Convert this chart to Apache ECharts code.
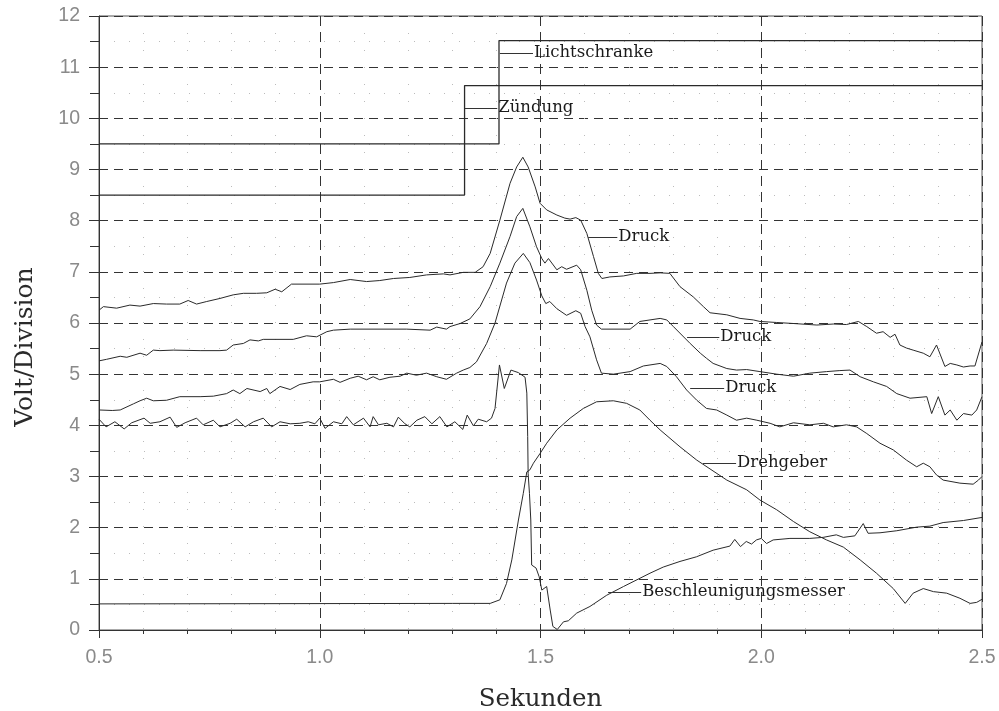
<!DOCTYPE html>
<html>
<head>
<meta charset="utf-8">
<script src="https://cdn.jsdelivr.net/npm/echarts@6/dist/echarts.min.js"></script>
<style>
  html, body { margin: 0; padding: 0; background: #ffffff; }
  #chart { width: 999px; height: 711px; }
</style>
</head>
<body>
<div id="chart"></div>
<script>
// Oszillogramm: Spannungsverläufe der Messkanäle über der Zeit (Sekunden)

const xTicks = [0.5, 1.0, 1.5, 2.0, 2.5];
const yTicks = [0, 1, 2, 3, 4, 5, 6, 7, 8, 9, 10, 11, 12];

// Lichtschranke
const lichtT = [0.5, 1.406, 1.406, 2.5];
const lichtV = [9.5, 9.5, 11.52, 11.52];

// Zündung
const zuendT = [0.5, 1.328, 1.328, 2.5];
const zuendV = [8.5, 8.5, 10.64, 10.64];

// Druck (oberer Kanal)
const druck1T = [0.500,0.510,0.540,0.570,0.593,0.623,0.653,0.683,0.702,0.721,0.744,0.774,0.804,0.827,0.857,0.880,0.899,0.914,0.936,1.000,1.031,1.069,1.106,1.136,1.167,1.204,1.242,1.280,1.295,1.325,1.352,1.370,1.386,1.408,1.431,1.446,1.460,1.472,1.488,1.499,1.514,1.537,1.555,1.567,1.580,1.591,1.605,1.620,1.631,1.639,1.657,1.688,1.718,1.748,1.771,1.793,1.816,1.846,1.869,1.884,1.922,1.952,1.982,1.997,2.035,2.073,2.126,2.163,2.193,2.220,2.239,2.261,2.276,2.292,2.303,2.314,2.329,2.344,2.367,2.382,2.397,2.416,2.428,2.443,2.458,2.473,2.484,2.500];
const druck1V = [6.25,6.32,6.29,6.35,6.33,6.38,6.37,6.37,6.44,6.37,6.42,6.48,6.55,6.58,6.58,6.59,6.66,6.61,6.76,6.76,6.79,6.85,6.81,6.83,6.87,6.89,6.94,6.96,6.94,6.99,6.99,7.10,7.36,8.01,8.73,9.05,9.24,9.05,8.66,8.34,8.21,8.11,8.05,8.03,8.06,8.01,7.75,7.30,6.97,6.87,6.90,6.92,6.97,6.97,6.98,6.97,6.71,6.51,6.32,6.20,6.16,6.09,6.06,6.03,6.01,5.99,5.96,5.98,5.97,6.03,5.93,5.80,5.83,5.72,5.78,5.57,5.51,5.47,5.41,5.34,5.57,5.15,5.21,5.18,5.14,5.16,5.16,5.63];

// Druck (mittlerer Kanal)
const druck2T = [0.500,0.517,0.548,0.563,0.593,0.608,0.623,0.638,0.668,0.729,0.774,0.789,0.804,0.827,0.842,0.861,0.872,0.940,0.970,0.993,1.016,1.031,1.069,1.197,1.250,1.265,1.287,1.295,1.318,1.340,1.363,1.386,1.408,1.431,1.446,1.460,1.476,1.491,1.503,1.510,1.518,1.537,1.548,1.559,1.582,1.591,1.605,1.616,1.627,1.638,1.703,1.725,1.771,1.786,1.801,1.839,1.862,1.876,1.891,1.922,1.944,1.967,1.997,2.035,2.073,2.110,2.148,2.178,2.201,2.224,2.254,2.284,2.307,2.337,2.375,2.386,2.401,2.416,2.428,2.443,2.458,2.477,2.488,2.500];
const druck2V = [5.26,5.29,5.35,5.33,5.41,5.37,5.47,5.46,5.47,5.46,5.46,5.47,5.57,5.60,5.67,5.65,5.68,5.68,5.75,5.73,5.83,5.86,5.88,5.88,5.86,5.92,5.88,5.93,5.99,6.08,6.32,6.71,7.17,7.69,8.08,8.24,7.88,7.49,7.26,7.17,7.26,7.04,7.10,7.05,7.13,7.04,6.64,6.25,5.96,5.88,5.88,6.03,6.09,6.06,5.93,5.60,5.41,5.31,5.21,5.11,5.08,5.09,5.05,5.00,4.96,5.02,5.05,5.07,5.08,4.95,4.85,4.76,4.62,4.53,4.56,4.23,4.56,4.20,4.30,4.10,4.23,4.20,4.30,4.56];

// Druck (unterer Kanal)
const druck3T = [0.500,0.530,0.548,0.578,0.593,0.608,0.623,0.653,0.683,0.729,0.759,0.789,0.804,0.819,0.835,0.865,0.880,0.887,0.910,0.933,0.955,0.985,1.000,1.031,1.046,1.069,1.087,1.106,1.121,1.136,1.159,1.182,1.197,1.219,1.242,1.265,1.287,1.310,1.325,1.340,1.355,1.378,1.397,1.423,1.442,1.461,1.476,1.491,1.503,1.512,1.521,1.537,1.559,1.580,1.591,1.601,1.612,1.627,1.638,1.665,1.703,1.733,1.748,1.771,1.786,1.808,1.831,1.854,1.876,1.899,1.922,1.944,1.967,1.990,2.020,2.042,2.073,2.110,2.141,2.163,2.193,2.216,2.239,2.269,2.299,2.329,2.352,2.367,2.382,2.397,2.412,2.450,2.480,2.492,2.500];
const druck3V = [4.30,4.29,4.30,4.42,4.48,4.53,4.48,4.49,4.56,4.56,4.57,4.62,4.69,4.62,4.72,4.66,4.72,4.62,4.76,4.70,4.80,4.85,4.85,4.90,4.84,4.92,4.96,4.89,4.95,4.89,4.94,4.96,5.02,4.98,5.02,4.95,4.90,5.02,5.08,5.13,5.24,5.60,6.00,6.78,7.17,7.36,7.18,6.84,6.53,6.38,6.42,6.28,6.15,6.24,6.19,5.93,5.73,5.28,5.02,5.00,5.05,5.16,5.18,5.21,5.15,4.95,4.69,4.49,4.33,4.30,4.20,4.10,4.14,4.10,4.04,3.97,4.05,4.01,4.04,3.97,4.01,3.97,3.84,3.65,3.52,3.32,3.19,3.26,3.19,3.03,2.93,2.87,2.85,2.93,3.00];

// Drehgeber
const drehT = [0.500,1.300,1.386,1.408,1.423,1.435,1.450,1.461,1.469,1.476,1.484,1.499,1.514,1.537,1.567,1.597,1.627,1.665,1.695,1.725,1.748,1.771,1.816,1.854,1.922,1.967,1.997,2.035,2.073,2.110,2.148,2.186,2.224,2.261,2.299,2.326,2.344,2.367,2.390,2.420,2.450,2.473,2.488,2.500];
const drehV = [0.51,0.52,0.52,0.59,0.91,1.37,2.15,2.67,3.09,3.13,3.26,3.45,3.65,3.91,4.14,4.33,4.46,4.48,4.43,4.30,4.10,3.91,3.58,3.32,2.93,2.74,2.54,2.35,2.12,1.92,1.76,1.62,1.37,1.11,0.81,0.52,0.72,0.81,0.75,0.72,0.62,0.52,0.54,0.60];

// Beschleunigungsmesser
const beschlT = [0.500,0.516,0.536,0.557,0.574,0.602,0.616,0.638,0.661,0.676,0.695,0.721,0.736,0.759,0.774,0.797,0.812,0.831,0.850,0.872,0.891,0.910,0.933,0.955,0.974,0.989,1.000,1.012,1.031,1.050,1.061,1.076,1.099,1.114,1.121,1.133,1.152,1.167,1.178,1.193,1.204,1.220,1.238,1.254,1.272,1.288,1.306,1.324,1.334,1.348,1.359,1.378,1.389,1.397,1.407,1.418,1.433,1.450,1.465,1.469,1.471,1.472,1.475,1.478,1.480,1.490,1.497,1.503,1.514,1.522,1.528,1.538,1.552,1.563,1.582,1.612,1.650,1.688,1.748,1.778,1.816,1.853,1.891,1.929,1.940,1.953,1.966,1.978,1.989,2.000,2.012,2.027,2.065,2.110,2.140,2.170,2.186,2.212,2.231,2.242,2.269,2.307,2.352,2.382,2.412,2.458,2.500];
const beschlV = [4.12,3.97,4.07,3.93,4.05,4.14,4.04,4.07,4.16,3.96,4.05,4.14,4.01,4.10,3.97,4.04,4.12,3.97,4.07,4.14,3.97,4.07,4.03,4.04,4.07,4.03,4.14,3.94,4.07,4.03,4.17,4.01,4.14,3.97,4.17,4.01,4.04,3.97,4.16,4.03,3.97,4.10,4.17,4.03,4.17,3.97,4.07,3.92,4.20,3.99,4.12,4.07,4.14,4.33,5.18,4.72,5.08,5.03,4.94,4.63,3.78,3.06,2.67,2.15,1.27,1.21,1.04,0.78,0.85,0.39,0.07,0.01,0.16,0.18,0.33,0.46,0.68,0.85,1.11,1.23,1.34,1.43,1.56,1.64,1.77,1.63,1.73,1.68,1.76,1.79,1.69,1.76,1.79,1.79,1.81,1.86,1.81,1.84,2.08,1.89,1.90,1.94,2.01,2.03,2.10,2.14,2.20];

// Beschriftungen mit Hinweislinie: [Name, Startzeit, Endzeit, Höhe]
const labelNames = ['Lichtschranke', 'Zündung', 'Druck', 'Druck', 'Druck', 'Drehgeber', 'Beschleunigungsmesser'];
const labelStart = [1.408, 1.329, 1.608, 1.832, 1.839, 1.868, 1.653];
const labelEnd   = [1.483, 1.402, 1.674, 1.905, 1.916, 1.943, 1.728];
const labelLevel = [11.28, 10.20, 7.68, 5.73, 4.73, 3.26, 0.74];

const traces = [
  [lichtT, lichtV], [zuendT, zuendV], [druck1T, druck1V], [druck2T, druck2V],
  [druck3T, druck3V], [drehT, drehV], [beschlT, beschlV]
];

const zip = (t, v) => t.map((x, i) => [x, v[i]]);

const labelFont = 'DejaVu Serif';
const series = traces.map((tr, i) => ({
  type: 'line',
  name: labelNames[i],
  data: zip(tr[0], tr[1]),
  showSymbol: false,
  symbol: 'none',
  silent: true,
  animation: false,
  lineStyle: { color: '#2a2a2a', width: i < 2 ? 1.3 : 1 },
  markLine: {
    silent: true,
    animation: false,
    symbol: 'none',
    lineStyle: { color: '#333', width: 1, type: 'solid' },
    label: {
      show: true,
      position: 'end',
      distance: 1,
      formatter: labelNames[i],
      fontFamily: labelFont,
      fontSize: 16.5,
      color: '#1a1a1a'
    },
    data: [[{ coord: [labelStart[i], labelLevel[i]] }, { coord: [labelEnd[i], labelLevel[i]] }]]
  }
}));

const chart = echarts.init(document.getElementById('chart'), null, { renderer: 'canvas' });
chart.setOption({
  backgroundColor: '#ffffff',
  animation: false,
  grid: {
    left: 99, right: 17, top: 16, bottom: 81,
    outerBoundsMode: 'none', containLabel: false,
    show: true, borderColor: '#555', borderWidth: 1
  },
  xAxis: {
    type: 'value',
    min: xTicks[0],
    max: xTicks[xTicks.length - 1],
    interval: 0.5,
    name: 'Sekunden',
    nameLocation: 'middle',
    nameGap: 57,
    nameTextStyle: { fontFamily: labelFont, fontSize: 24.5, color: '#2a2a2a' },
    axisLine: { show: true, lineStyle: { color: '#333', width: 1 } },
    axisTick: { show: true, inside: false, length: 8, lineStyle: { color: '#333' } },
    minorTick: { show: true, splitNumber: 5, length: 4, lineStyle: { color: '#333' } },
    axisLabel: {
      margin: 18, fontFamily: 'Liberation Sans', fontSize: 19.5, color: '#8a8a8a',
      formatter: v => v.toFixed(1)
    },
    splitLine: { show: true, lineStyle: { color: '#333', type: [10, 6], width: 1 } },
    minorSplitLine: { show: true, lineStyle: { color: '#bbb', type: [1, 16], width: 1 } }
  },
  yAxis: {
    type: 'value',
    min: yTicks[0],
    max: yTicks[yTicks.length - 1],
    interval: 1,
    axisLine: { show: true, lineStyle: { color: '#333', width: 1 } },
    axisTick: { show: true, inside: false, length: 10, lineStyle: { color: '#333' } },
    minorTick: { show: true, splitNumber: 2, length: 9, lineStyle: { color: '#333' } },
    axisLabel: { margin: 19, fontFamily: 'Liberation Sans', fontSize: 19.5, color: '#8a8a8a' },
    splitLine: { show: true, lineStyle: { color: '#333', type: [9, 6], width: 1 } },
    minorSplitLine: { show: true, lineStyle: { color: '#bbb', type: [1, 14], width: 1 } }
  },
  graphic: [{
    type: 'text',
    x: 25,
    y: 347,
    rotation: Math.PI / 2,
    style: {
      text: 'Volt/Division',
      fontFamily: labelFont,
      fontSize: 25,
      fill: '#2a2a2a',
      align: 'center',
      verticalAlign: 'middle'
    }
  }],
  series: series
});
</script>
</body>
</html>
